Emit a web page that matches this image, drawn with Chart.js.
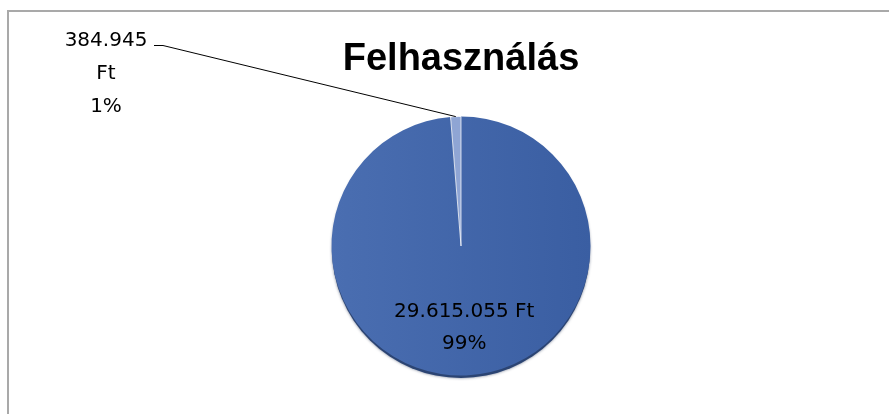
<!DOCTYPE html>
<html>
<head>
<meta charset="utf-8">
<script src="https://cdn.jsdelivr.net/npm/chart.js@4"></script>
<style>
  html, body { margin: 0; padding: 0; background: #fff; overflow: hidden; }
  #wrap { position: relative; width: 889px; height: 414px; }
  #frame { position: absolute; left: 7px; top: 10px; width: 900px; height: 500px;
           border-top: 2px solid #a9a9a9; border-left: 2px solid #a9a9a9; box-sizing: border-box; }
  canvas { position: absolute; left: 0; top: 0; }
</style>
</head>
<body>
<div id="wrap">
  <div id="frame"></div>
  <canvas id="pieChart" width="889" height="414"></canvas>
</div>
<script>
const chartTitle = 'Felhasználás';
const categories = ['Felhasznált', 'Fennmaradó'];
const values = [29615055, 384945];
const sliceColors = ['#4067ab', '#8fa5d4'];
const currency = 'Ft';

function fmt(n) {
  return String(n).replace(/\B(?=(\d{3})+(?!\d))/g, '.');
}

const total = values.reduce((a, b) => a + b, 0);

// soft shadow under the pie
const pieShadow = {
  id: 'pieShadow',
  beforeDatasetsDraw(chart) {
    const arc = chart.getDatasetMeta(0).data[0];
    if (!arc) return;
    const p = arc.getProps(['x', 'y', 'outerRadius'], true);
    const ctx = chart.ctx;
    ctx.save();
    ctx.fillStyle = '#2b4473';
    ctx.shadowColor = 'rgba(20,35,70,0.6)';
    ctx.shadowBlur = 3;
    ctx.beginPath();
    ctx.arc(p.x, p.y + 3, p.outerRadius - 0.5, 0, Math.PI * 2);
    ctx.fill();
    ctx.restore();
  }
};

const sliceLabels = {
  id: 'sliceLabels',
  afterDatasetsDraw(chart) {
    const ctx = chart.ctx;
    const meta = chart.getDatasetMeta(0);
    ctx.save();
    ctx.fillStyle = '#000';
    ctx.font = '20px "DejaVu Sans"';
    ctx.textAlign = 'center';
    ctx.textBaseline = 'alphabetic';

    // big slice: label inside
    const a = meta.data[0].getProps(['x', 'y', 'startAngle', 'endAngle', 'outerRadius'], true);
    const mid = (a.startAngle + a.endAngle) / 2;
    const lx = a.x + Math.cos(mid) * a.outerRadius * 0.615;
    const ly = a.y + Math.sin(mid) * a.outerRadius * 0.615;
    ctx.fillText(fmt(values[0]) + ' ' + currency, lx, ly - 16 + 7);
    ctx.fillText(Math.round(values[0] / total * 100) + '%', lx, ly + 16 + 7);

    // small slice: label outside with leader line
    const b = meta.data[1].getProps(['x', 'y', 'startAngle', 'endAngle', 'outerRadius'], true);
    const midB = (b.startAngle + b.endAngle) / 2;
    const px = b.x + Math.cos(midB) * b.outerRadius;
    const py = b.y + Math.sin(midB) * b.outerRadius;
    const tx = 106;
    ctx.fillText(fmt(values[1]), tx, 46);
    ctx.fillText(currency, tx, 79);
    ctx.fillText(Math.round(values[1] / total * 100) + '%', tx, 112);

    ctx.strokeStyle = '#000';
    ctx.lineWidth = 1;
    ctx.beginPath();
    ctx.moveTo(154, 45.5);
    ctx.lineTo(163, 45.5);
    ctx.lineTo(px, py);
    ctx.stroke();
    ctx.restore();
  }
};

function sliceFill(c) {
  const chart = c.chart;
  const area = chart.chartArea;
  const base = sliceColors[c.dataIndex];
  if (!area || c.dataIndex !== 0) return base;
  const cx = (area.left + area.right) / 2;
  const r = Math.min(area.right - area.left, area.bottom - area.top) / 2;
  const g = chart.ctx.createLinearGradient(cx - r, 0, cx + r, 0);
  g.addColorStop(0, '#4a6eb1');
  g.addColorStop(1, '#3a5ea2');
  return g;
}

const ctx = document.getElementById('pieChart').getContext('2d');
const pieChart = new Chart(ctx, {
  type: 'pie',
  data: {
    labels: categories,
    datasets: [{
      data: values,
      backgroundColor: sliceFill,
      borderColor: 'rgba(255,255,255,0.75)',
      borderWidth: [0, 1],
      hoverOffset: 0
    }]
  },
  options: {
    responsive: false,
    animation: false,
    layout: { padding: { left: 33, right: 0, top: 0, bottom: 38 } },
    plugins: {
      legend: { display: false },
      tooltip: { enabled: false },
      title: {
        display: true,
        text: chartTitle,
        color: '#000',
        font: { family: '"Liberation Sans", Arial, sans-serif', size: 38, weight: 'bold', lineHeight: 1.2 },
        padding: { top: 37, bottom: 33.4 }
      }
    }
  },
  plugins: [pieShadow, sliceLabels]
});
</script>
</body>
</html>
